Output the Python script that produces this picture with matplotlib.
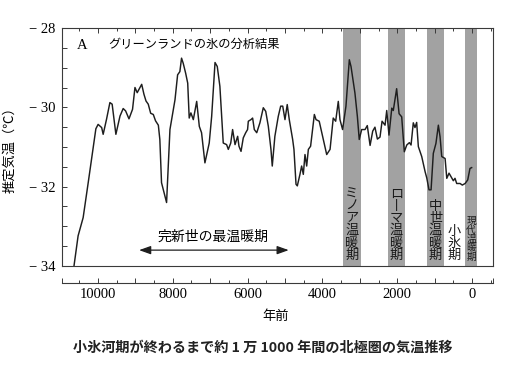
import numpy as np
import matplotlib.pyplot as plt
from matplotlib.ticker import FixedLocator, MultipleLocator, FuncFormatter

plt.rcParams['font.family'] = ['Liberation Serif', 'Noto Sans CJK JP']

# Greenland ice core temperature reconstruction (years before present, deg C)
years = [10640, 10530, 10395, 10260, 10055, 9995, 9900, 9860, 9770, 9680,
         9620, 9520, 9410, 9325, 9260, 9170, 9075, 9010, 8950, 8830,
         8770, 8715, 8655, 8590, 8520, 8460, 8385, 8345, 8300, 8165,
         8075, 7940, 7870, 7810, 7765, 7720, 7655, 7600, 7560, 7515,
         7450, 7360, 7290, 7230, 7140, 7025, 6960, 6870, 6810, 6740,
         6650, 6560, 6515, 6450, 6400, 6335, 6265, 6230, 6175, 6115,
         6050, 6000, 5980, 5910, 5865, 5820, 5755, 5670, 5580, 5515,
         5445, 5375, 5340, 5270, 5180, 5115, 5060, 5000, 4940, 4885,
         4795, 4760, 4705, 4670, 4600, 4555, 4510, 4465, 4420, 4375,
         4315, 4215, 4170, 4085, 3975, 3885, 3795, 3710, 3645, 3575,
         3530, 3460, 3370, 3280, 3235, 3130, 3065, 3015, 2950, 2860,
         2800, 2725, 2655, 2595, 2530, 2460, 2405, 2325, 2280, 2220,
         2145, 2105, 2015, 1950, 1880, 1810, 1745, 1675, 1630, 1570,
         1525, 1480, 1435, 1345, 1255, 1210, 1150, 1095, 1035, 965,
         900, 855, 810, 720, 675, 615, 560, 500, 455, 410,
         320, 260, 185, 115, 55, 10]
temps = [-34.0, -33.24, -32.78, -31.90, -30.54, -30.43, -30.51, -30.68, -30.30, -29.88,
         -29.92, -30.68, -30.22, -30.03, -30.09, -30.29, -30.05, -29.50, -29.63, -29.42,
         -29.67, -29.84, -29.92, -30.15, -30.18, -30.34, -30.45, -30.81, -31.90, -32.40,
         -30.56, -29.81, -29.18, -29.10, -28.76, -28.89, -29.14, -29.39, -30.27, -30.14,
         -30.31, -29.85, -30.48, -30.64, -31.40, -30.90, -30.23, -28.87, -28.97, -29.47,
         -30.90, -30.94, -31.06, -30.90, -30.56, -30.94, -30.73, -30.98, -31.11, -30.77,
         -30.64, -30.56, -30.35, -30.31, -30.27, -30.56, -30.64, -30.39, -30.01, -30.10,
         -30.48, -31.06, -31.48, -30.73, -30.23, -29.97, -29.97, -30.31, -29.93, -30.31,
         -30.81, -31.06, -31.94, -31.98, -31.69, -31.48, -31.69, -31.19, -31.48, -31.06,
         -30.98, -30.18, -30.31, -30.35, -30.81, -31.19, -31.06, -30.27, -30.35, -29.85,
         -30.31, -30.56, -29.97, -28.80, -28.97, -29.64, -30.23, -30.81, -30.56, -30.56,
         -30.46, -30.96, -30.60, -30.50, -30.80, -30.75, -30.35, -30.45, -30.08, -30.70,
         -30.02, -30.08, -29.53, -30.16, -30.24, -31.12, -30.95, -30.89, -30.95, -30.39,
         -30.51, -30.38, -30.99, -31.24, -31.62, -31.78, -32.08, -32.08, -31.16, -30.91,
         -30.45, -30.74, -31.24, -31.29, -31.79, -31.66, -31.75, -31.85, -31.79, -31.92,
         -31.92, -31.96, -31.92, -31.83, -31.54, -31.52]

# warm periods (start, end in years BP) and their labels
band_start = [3450, 2245, 1200, 185]
band_end = [2970, 1790, 750, -135]
band_labels = ['ミノア温暖期', 'ロ丨マ温暖期', '中世温暖期', '現代温暖期']
little_ice_age = '小氷期'

optimum_span = (8900, 4900)
optimum_label = '完新世の最温暖期'

fig = plt.figure(figsize=(5.05, 3.7), dpi=100)
ax = fig.add_axes([0.1228, 0.2811, 0.8534, 0.6432])

line_col = '#1e1e1e'
frame_col = '#3a3a3a'

for s, e in zip(band_start, band_end):
    ax.axvspan(s, e, color='#a2a2a2', lw=0, zorder=0)

ax.plot(years, temps, color=line_col, lw=1.05, zorder=3)

ax.set_xlim(10960, -560)
ax.set_ylim(-34, -28)

# frame
for sp in ax.spines.values():
    sp.set_color(frame_col)
    sp.set_linewidth(0.8)
ax.spines['bottom'].set_position(('outward', 12))
ax.axhline(ax.get_ylim()[0], color=frame_col, lw=0.8, clip_on=False, zorder=4)

ax.xaxis.set_major_locator(FixedLocator(list(range(10000, -1, -1000)) + [10960, -560]))
ax.xaxis.set_minor_locator(MultipleLocator(500))
ax.xaxis.set_major_formatter(FuncFormatter(
    lambda v, p: f'{int(v)}' if v % 2000 == 0 and v >= 0 else ''))
ax.yaxis.set_major_locator(MultipleLocator(2))
ax.yaxis.set_minor_locator(MultipleLocator(0.5))
ax.yaxis.set_major_formatter(FuncFormatter(lambda v, p: '\u2212 ' + f'{int(abs(v))}'))

ax.tick_params(axis='x', which='both', direction='in', top=True, bottom=True,
               color=frame_col, labelsize=10.5, pad=4)
ax.tick_params(axis='x', which='major', length=3.6, width=0.7)
ax.tick_params(axis='x', which='minor', length=2.0, width=0.7)
ax.tick_params(axis='y', which='both', direction='in', length=3.6, width=0.7,
               color=frame_col, labelsize=10.5, pad=5)

ax.set_ylabel('推定気温（℃）', fontsize=9.5)
ax.yaxis.set_label_coords(-0.105, 0.5)
fig.text(276 / 505, 1 - 317 / 370, '年前', fontsize=9.5, ha='center', va='center')

ax.text(10430, -28.43, 'A', fontsize=10.5, ha='center', va='center')
ax.text(9730, -28.43, 'グリーンランドの氷の分析結果', fontsize=8.8, ha='left', va='center')

# holocene optimum arrow
ax.annotate('', xy=(optimum_span[0], -33.6), xytext=(optimum_span[1], -33.6),
            arrowprops=dict(arrowstyle='<|-|>,head_length=0.7,head_width=0.25',
                            color=line_col, lw=0.9, shrinkA=0, shrinkB=0))
ax.text(6930, -33.27, optimum_label, fontsize=10, ha='center', va='center')

# vertical labels
for s, e, lab in zip(band_start, band_end, band_labels):
    fs = 7 if lab == '現代温暖期' else 9.5
    ax.text((s + e) / 2, -33.9, '\n'.join(lab), fontsize=fs, ha='center', va='bottom',
            linespacing=1.0, color='#1a1a1a', zorder=5)
ax.text((band_end[2] + band_start[3]) / 2, -33.9, '\n'.join(little_ice_age), fontsize=9.5,
        ha='center', va='bottom', linespacing=1.0, color='#1a1a1a', zorder=5)

fig.text(263 / 505, 1 - 348 / 370, '小氷河期が終わるまで約 1 万 1000 年間の北極圏の気温推移',
         fontsize=10.2, fontweight='bold', ha='center', va='center', color='#222222',
         family=['Noto Sans CJK JP', 'DejaVu Sans'])

fig.savefig('out.png', dpi=100)
